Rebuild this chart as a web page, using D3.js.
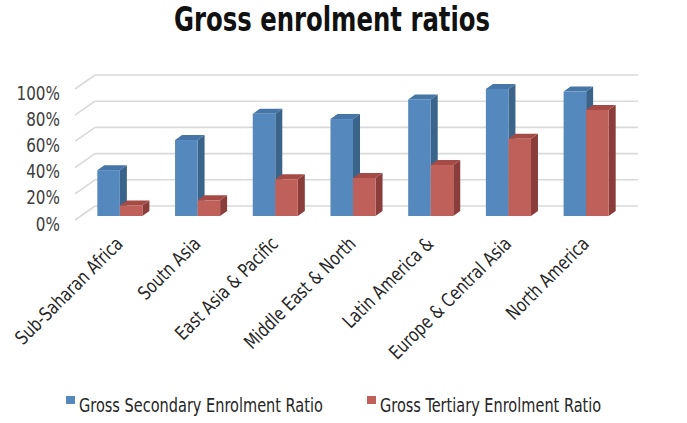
<!DOCTYPE html>
<html>
<head>
<meta charset="utf-8">
<script src="https://cdn.jsdelivr.net/npm/d3@7"></script>
<style>
  body { margin: 0; background: #fff; }
  svg text { font-family: "Liberation Sans Narrow", "DejaVu Sans Condensed", "Roboto", sans-serif; }
</style>
</head>
<body>
<div id="chart"></div>
<script>
// data
const categories = ["Sub-Saharan Africa", "Soutn Asia", "East Asia & Pacific",
  "Middle East & North", "Latin America &", "Europe & Central Asia", "North America"];
const seriesNames = ["Gross Secondary Enrolment Ratio", "Gross Tertiary Enrolment Ratio"];
const secondary = [0.35, 0.58, 0.78, 0.74, 0.89, 0.97, 0.95];
const tertiary = [0.08, 0.12, 0.28, 0.29, 0.39, 0.59, 0.81];
const yTicks = [0, 0.2, 0.4, 0.6, 0.8, 1.0];

const width = 687, height = 423;

// colours: front, side, top
const palette = [
  { front: "#5589bd", side: "#3a6489", top: "#4676a8" },
  { front: "#c0605a", side: "#8a3d3a", top: "#a64a45" }
];

// squeeze text horizontally, the original uses a narrow font
function condense(sel, f) {
  sel.each(function() {
    const len = this.getComputedTextLength();
    d3.select(this)
      .attr("textLength", len * f)
      .attr("lengthAdjust", "spacingAndGlyphs");
  });
}

const svg = d3.select("#chart").append("svg")
  .attr("width", width)
  .attr("height", height);

// title
svg.append("text")
  .attr("x", 332)
  .attr("y", 31)
  .attr("text-anchor", "middle")
  .style("font-size", "33px")
  .style("font-weight", "bold")
  .attr("fill", "#111")
  .text("Gross enrolment ratios")
  .call(condense, 0.82);

// 3d frame: back wall offset from front plane
const depth = { dx: 20, dy: -14 };
const barDepth = { dx: 7, dy: -5 };

const yFront = d3.scaleLinear().domain([0, 1]).range([220, 89]);
const yBar = d3.scaleLinear().domain([0, 1]).range([216, 85]);

const x = d3.scaleBand()
  .domain(categories)
  .range([81, 625])
  .paddingInner(0.42)
  .paddingOuter(0.21);

const xs = d3.scaleBand()
  .domain(d3.range(seriesNames.length))
  .range([0, x.bandwidth()]);

// gridlines (back wall + left wall diagonal)
const grid = svg.append("g");
yTicks.forEach(t => {
  const yb = yFront(t) + depth.dy;
  grid.append("line")
    .attr("x1", 75 + depth.dx).attr("x2", 638)
    .attr("y1", yb).attr("y2", yb)
    .attr("stroke", "#d9d9d9").attr("stroke-width", 1.6);
  grid.append("line")
    .attr("x1", 75).attr("y1", yFront(t))
    .attr("x2", 75 + depth.dx).attr("y2", yb)
    .attr("stroke", "#d9d9d9").attr("stroke-width", 1.6);
});

// y labels
svg.append("g").selectAll("text")
  .data(yTicks)
  .join("text")
  .attr("x", 60)
  .attr("y", d => yFront(d) + 4)
  .attr("dy", "0.35em")
  .attr("text-anchor", "end")
  .attr("fill", "#404040")
  .style("font-size", "19px")
  .text(d => d3.format(".0%")(d))
  .call(condense, 0.89);

// bars
const rows = categories.map((c, i) => [secondary[i], tertiary[i]]);
const bars = svg.append("g");
categories.forEach((c, i) => {
  rows[i].forEach((v, s) => {
    const x0 = x(c) + xs(s), x1 = x0 + xs.bandwidth();
    const y0 = yBar(0), y1 = yBar(v);
    const dx = barDepth.dx, dy = barDepth.dy;
    const col = palette[s];
    // side
    bars.append("path")
      .attr("d", `M${x1},${y1}L${x1 + dx},${y1 + dy}L${x1 + dx},${y0 + dy}L${x1},${y0}Z`)
      .attr("fill", col.side);
    // top
    bars.append("path")
      .attr("d", `M${x0},${y1}L${x0 + dx},${y1 + dy}L${x1 + dx},${y1 + dy}L${x1},${y1}Z`)
      .attr("fill", col.top);
    // front
    bars.append("rect")
      .attr("x", x0).attr("y", y1)
      .attr("width", x1 - x0).attr("height", y0 - y1)
      .attr("fill", col.front);
  });
});

// category labels
svg.append("g").selectAll("text")
  .data(categories)
  .join("text")
  .attr("transform", d => `translate(${x(d) + x.bandwidth() / 2 + 4},${245}) rotate(-45)`)
  .attr("text-anchor", "end")
  .attr("fill", "#262626")
  .style("font-size", "19px")
  .text(d => d)
  .call(condense, 0.87);

// legend
const legendX = [66, 367];
const legend = svg.append("g").selectAll("g")
  .data(seriesNames)
  .join("g")
  .attr("transform", (d, i) => `translate(${legendX[i]},396)`);
legend.append("rect")
  .attr("width", 9).attr("height", 8)
  .attr("fill", (d, i) => palette[i].front);
legend.append("text")
  .attr("x", 13)
  .attr("y", 16)
  .attr("fill", "#262626")
  .style("font-size", "19px")
  .text(d => d)
  .call(condense, 0.85);
</script>
</body>
</html>
